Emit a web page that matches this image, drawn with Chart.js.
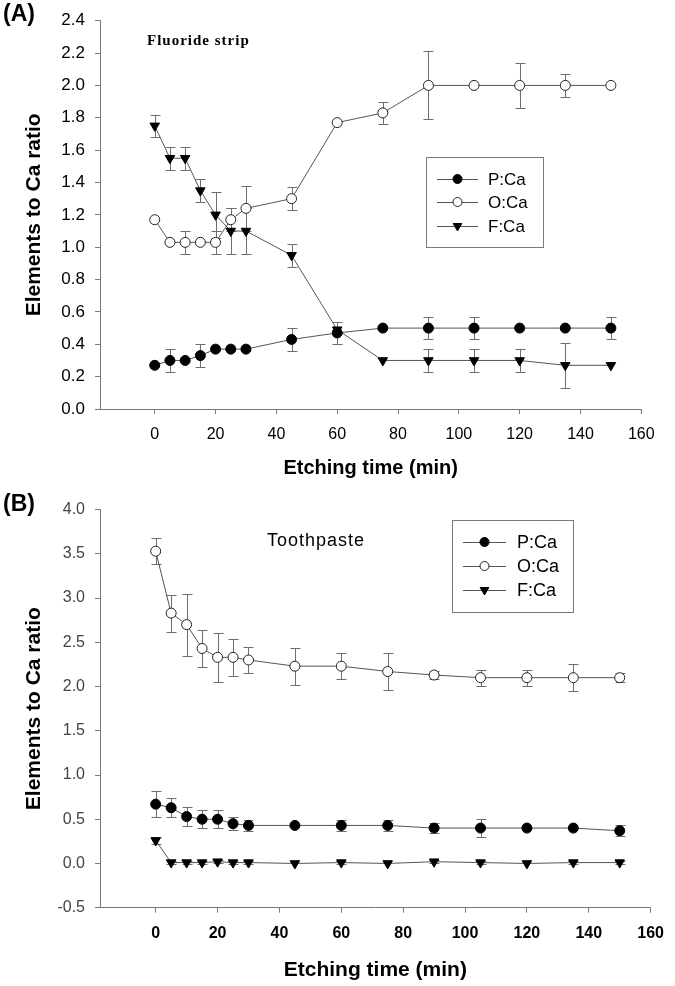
<!DOCTYPE html>
<html>
<head>
<meta charset="utf-8">
<script src="https://cdn.jsdelivr.net/npm/chart.js@4/dist/chart.umd.min.js"></script>
<style>
  body { margin: 0; background: #fff; }
  #wrap { position: relative; width: 675px; height: 986px; overflow: hidden; }
  canvas { position: absolute; left: 0; }
  .lbl { position: absolute; line-height: 1; white-space: nowrap; color: #000; }
</style>
</head>
<body>
<div id="wrap">
  <canvas id="chartA" width="675" height="490" style="top:0"></canvas>
  <canvas id="chartB" width="675" height="496" style="top:490px"></canvas>
  <div class="lbl" style="left:3px;top:0px;font:bold 23px 'Liberation Sans',Arial,sans-serif">(A)</div>
  <div class="lbl" style="left:3px;top:490px;font:bold 23px 'Liberation Sans',Arial,sans-serif">(B)</div>
  <div class="lbl" style="left:147px;top:32px;font:bold 15px 'Liberation Serif','Times New Roman',serif;letter-spacing:1px">Fluoride strip</div>
  <div class="lbl" style="left:267px;top:530px;font:18px 'Liberation Sans',Arial,sans-serif;letter-spacing:1px">Toothpaste</div>
</div>
<script>
// etching time (min)
let tiempos = [0, 5, 10, 15, 20, 25, 30, 45, 60, 75, 90, 105, 120, 135, 150]
let ticksX = [0, 20, 40, 60, 80, 100, 120, 140, 160]
let series = ['P:Ca', 'O:Ca', 'F:Ca']

// (A) fluoride strip
let pA    = [0.27, 0.30, 0.30, 0.33, 0.37, 0.37, 0.37, 0.43, 0.47, 0.50, 0.50, 0.50, 0.50, 0.50, 0.50]
let pAErr = [0, 0.07, 0, 0.07, 0, 0, 0, 0.07, 0.07, 0, 0.07, 0.07, 0, 0, 0.07]
let oA    = [1.17, 1.03, 1.03, 1.03, 1.03, 1.17, 1.24, 1.30, 1.77, 1.83, 2.00, 2.00, 2.00, 2.00, 2.00]
let oAErr = [0, 0, 0.07, 0, 0.07, 0.07, 0.14, 0.07, 0, 0.07, 0.21, 0, 0.14, 0.07, 0]
let fA    = [1.75, 1.55, 1.55, 1.35, 1.20, 1.10, 1.10, 0.95, 0.49, 0.30, 0.30, 0.30, 0.30, 0.27, 0.27]
let fAErr = [0.07, 0.07, 0.07, 0.07, 0.14, 0.14, 0.14, 0.07, 0, 0, 0.07, 0.07, 0.07, 0.14, 0]

// (B) toothpaste
let pB    = [0.67, 0.63, 0.53, 0.50, 0.50, 0.45, 0.43, 0.43, 0.43, 0.43, 0.40, 0.40, 0.40, 0.40, 0.37]
let pBErr = [0.15, 0.11, 0.11, 0.10, 0.10, 0.07, 0.06, 0, 0.06, 0.06, 0.06, 0.10, 0, 0, 0.06]
let oB    = [3.53, 2.83, 2.70, 2.43, 2.33, 2.33, 2.30, 2.23, 2.23, 2.17, 2.13, 2.10, 2.10, 2.10, 2.10]
let oBErr = [0.15, 0.21, 0.35, 0.21, 0.28, 0.21, 0.15, 0.21, 0.15, 0.21, 0.05, 0.09, 0.09, 0.15, 0.05]
let fB    = [0.26, 0.01, 0.01, 0.01, 0.02, 0.01, 0.01, 0.00, 0.01, 0.00, 0.02, 0.01, 0.00, 0.01, 0.01]
let fBErr = [0.04, 0.02, 0.02, 0.02, 0.02, 0.02, 0.02, 0, 0.02, 0, 0.02, 0.02, 0, 0.02, 0.02]

const AXIS = '#7a7a7a'
const SANS = "'Liberation Sans', Arial, sans-serif"

// marker style per series: P filled circle, O open circle, F filled down triangle
let estilos = [
    {pointStyle: 'circle', radius: 5, rotation: 0, bg: '#000', bd: '#000'},
    {pointStyle: 'circle', radius: 5, rotation: 0, bg: '#fff', bd: '#222'},
    {pointStyle: 'triangle', radius: 5.5, rotation: 180, bg: '#000', bd: '#000'}
]

function pares(vals){
    return tiempos.map((t, i) => ({x: t, y: vals[i]}))
}

function dataset(i, vals, errs){
    let e = estilos[i]
    return {
        label: series[i],
        data: pares(vals),
        errors: errs,
        showLine: true,
        borderColor: '#555',
        borderWidth: 1,
        pointStyle: e.pointStyle,
        pointRotation: e.rotation,
        pointRadius: e.radius,
        pointBackgroundColor: e.bg,
        pointBorderColor: e.bd,
        pointBorderWidth: 1
    }
}

// vertical error bars with caps, drawn under the markers
const errorBars = {
    id: 'errorBars',
    beforeDatasetsDraw(chart){
        const ctx = chart.ctx
        const sx = chart.scales.x, sy = chart.scales.y
        ctx.save()
        ctx.strokeStyle = '#6e6e6e'
        ctx.lineWidth = 1
        chart.data.datasets.forEach(ds => {
            ds.errors.forEach((e, i) => {
                if (!e) return
                let p = ds.data[i]
                let px = Math.round(sx.getPixelForValue(p.x)) + 0.5
                let t = Math.round(sy.getPixelForValue(p.y + e)) + 0.5
                let b = Math.round(sy.getPixelForValue(p.y - e)) + 0.5
                ctx.beginPath()
                ctx.moveTo(px, t); ctx.lineTo(px, b)
                ctx.moveTo(px - 5, t); ctx.lineTo(px + 5, t)
                ctx.moveTo(px - 5, b); ctx.lineTo(px + 5, b)
                ctx.stroke()
            })
        })
        ctx.restore()
    }
}

// boxed legend inside the plot
const boxLegend = {
    id: 'boxLegend',
    afterDraw(chart, args, o){
        const ctx = chart.ctx
        ctx.save()
        ctx.strokeStyle = '#7a7a7a'
        ctx.lineWidth = 1
        ctx.strokeRect(o.x + 0.5, o.y + 0.5, o.w, o.h)
        ctx.font = o.size + 'px ' + SANS
        ctx.textBaseline = 'middle'
        ctx.fillStyle = '#000'
        series.forEach((s, i) => {
            let y = o.rows[i]
            ctx.strokeStyle = '#555'
            ctx.beginPath()
            ctx.moveTo(o.lx1, y + 0.5); ctx.lineTo(o.lx2, y + 0.5)
            ctx.stroke()
            let e = estilos[i]
            ctx.fillStyle = e.bg
            ctx.strokeStyle = e.bd
            Chart.helpers.drawPoint(ctx, {pointStyle: e.pointStyle, radius: e.radius - 0.5, rotation: e.rotation, borderWidth: 1}, (o.lx1 + o.lx2) / 2, y)
            ctx.fillStyle = '#000'
            ctx.fillText(s, o.tx, y + 1)
        })
        ctx.restore()
    }
}

function crear(id, cfg){
    return new Chart(document.getElementById(id), {
        type: 'scatter',
        data: {datasets: cfg.datasets},
        plugins: [errorBars, boxLegend],
        options: {
            responsive: false,
            animation: false,
            devicePixelRatio: 1,
            layout: {padding: cfg.padding},
            plugins: {
                legend: {display: false},
                tooltip: {enabled: false},
                boxLegend: cfg.legend
            },
            scales: {
                x: {
                    type: 'linear',
                    min: -18,
                    max: 160,
                    afterFit: s => { s.height = cfg.xHeight },
                    afterBuildTicks: s => { s.ticks = ticksX.map(v => ({value: v})) },
                    grid: {drawOnChartArea: false, tickLength: 5, color: AXIS},
                    border: {color: AXIS},
                    ticks: {autoSkip: false, padding: 11, color: '#000', font: {family: SANS, size: 16, weight: cfg.xBold ? 'bold' : 'normal'}},
                    title: {display: true, text: 'Etching time (min)', color: '#000', font: {family: SANS, size: cfg.xTitleSize, weight: 'bold'}, padding: {bottom: cfg.xTitlePad}}
                },
                y: {
                    min: cfg.yMin,
                    max: cfg.yMax,
                    afterFit: s => { s.width = 100 },
                    grid: {drawOnChartArea: false, tickLength: 5, color: AXIS},
                    border: {color: AXIS},
                    ticks: {stepSize: cfg.yStep, padding: 10, color: cfg.yColor, font: {family: SANS, size: cfg.ySize}, callback: v => v.toFixed(1)},
                    title: {display: true, text: 'Elements to Ca ratio', color: '#000', font: {family: SANS, size: 21, weight: 'bold'}, padding: {top: 22}}
                }
            }
        }
    })
}

let a = crear('chartA', {
    datasets: [dataset(0, pA, pAErr), dataset(1, oA, oAErr), dataset(2, fA, fAErr)],
    padding: {top: 20.7, right: 33.7, left: 0, bottom: 0},
    xHeight: 81,
    xBold: false,
    xTitleSize: 20,
    xTitlePad: 10,
    yMin: 0, yMax: 2.4, yStep: 0.2,
    ySize: 17, yColor: '#000',
    legend: {x: 426, y: 157, w: 117, h: 90, rows: [179, 202, 226], lx1: 437, lx2: 478, tx: 488, size: 17}
})

let b = crear('chartB', {
    datasets: [dataset(0, pB, pBErr), dataset(1, oB, oBErr), dataset(2, fB, fBErr)],
    padding: {top: 17.3, right: 17.7, left: 0, bottom: 0},
    xHeight: 78.3,
    xBold: true,
    xTitleSize: 21,
    xTitlePad: 3,
    yMin: -0.5, yMax: 4.0, yStep: 0.5,
    ySize: 16, yColor: '#444',
    legend: {x: 452, y: 30, w: 121, h: 92, rows: [52, 76, 100], lx1: 463, lx2: 506, tx: 517, size: 18}
})
</script>
</body>
</html>
